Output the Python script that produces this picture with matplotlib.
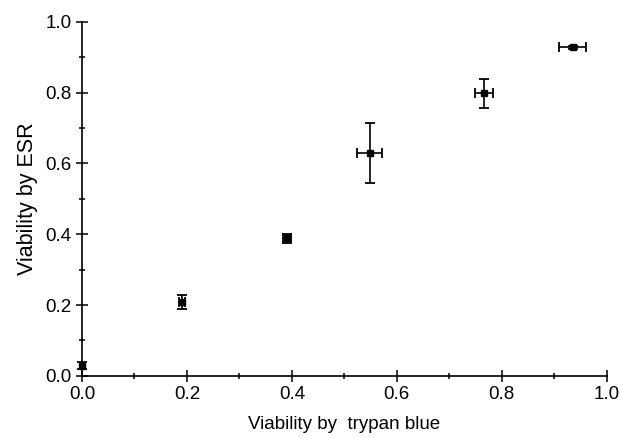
import matplotlib
matplotlib.use("Agg")
import matplotlib.pyplot as plt
from matplotlib.ticker import MultipleLocator

plt.rcParams['font.family'] = ['Liberation Sans', 'DejaVu Sans']

x_trypan = [0.0, 0.191, 0.391, 0.548, 0.766, 0.935]
y_esr = [0.029, 0.208, 0.388, 0.630, 0.798, 0.928]
x_err = [0.0, 0.006, 0.008, 0.023, 0.017, 0.025]
y_err = [0.010, 0.020, 0.013, 0.085, 0.041, 0.004]

fig = plt.figure(figsize=(6.21, 4.38), dpi=100)
ax = fig.add_axes([0.132, 0.142, 0.845, 0.808])

ax.errorbar(x_trypan, y_esr, xerr=x_err, yerr=y_err, fmt='s', color='black',
            markersize=4, elinewidth=1.2, capsize=3.5, capthick=1.3, clip_on=False)

ax.set_xlim(0, 1.0)
ax.set_ylim(0, 1.0)
ax.spines['top'].set_visible(False)
ax.spines['right'].set_visible(False)
ax.spines['left'].set_linewidth(1.2)
ax.spines['bottom'].set_linewidth(1.2)

ax.xaxis.set_major_locator(MultipleLocator(0.2))
ax.xaxis.set_minor_locator(MultipleLocator(0.1))
ax.yaxis.set_major_locator(MultipleLocator(0.2))
ax.yaxis.set_minor_locator(MultipleLocator(0.1))
ax.xaxis.set_major_formatter(plt.FuncFormatter(lambda v, p: f"{v:.1f}"))
ax.yaxis.set_major_formatter(plt.FuncFormatter(lambda v, p: f"{v:.1f}"))
ax.tick_params(which='major', direction='inout', length=9, width=1.1, labelsize=13.5, pad=3, colors='black')
ax.tick_params(which='minor', direction='inout', length=5, width=1.1)

ax.set_xlabel("Viability by  trypan blue", fontsize=13.5, labelpad=9)
ax.set_ylabel("Viability by ESR", fontsize=15.5, labelpad=5)

fig.savefig("out.png", dpi=100)
